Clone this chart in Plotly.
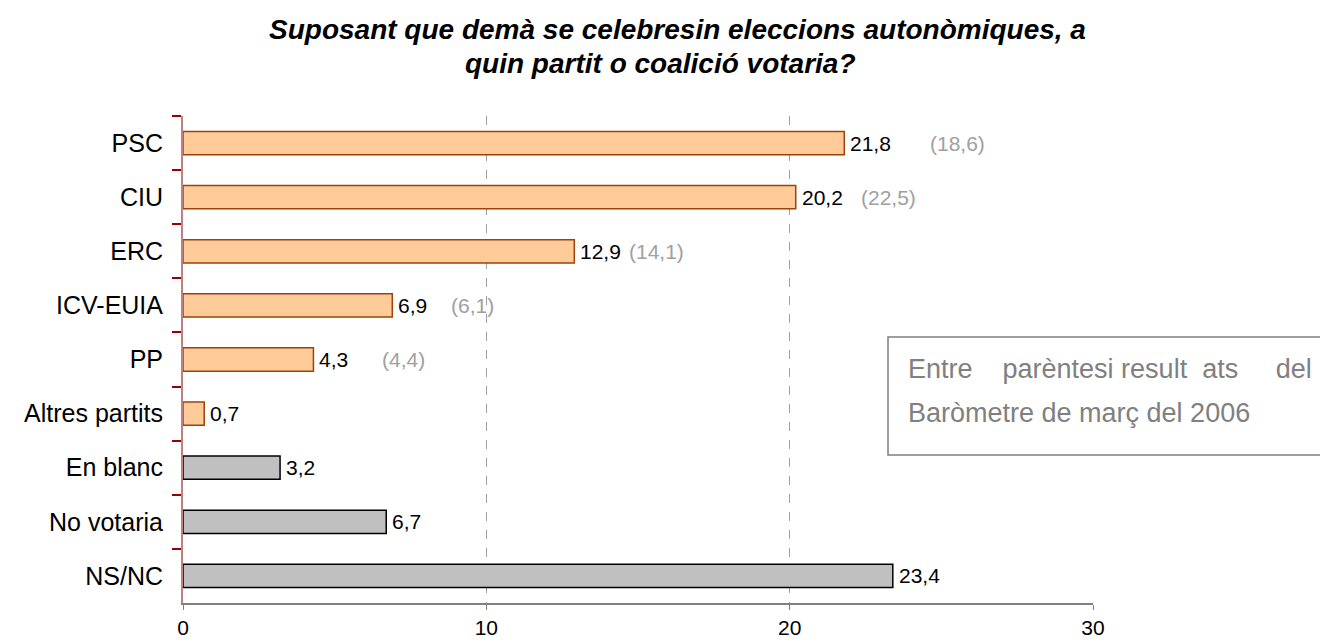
import plotly.graph_objects as go

categories = ["PSC", "CIU", "ERC", "ICV-EUIA", "PP", "Altres partits", "En blanc", "No votaria", "NS/NC"]
values = [21.8, 20.2, 12.9, 6.9, 4.3, 0.7, 3.2, 6.7, 23.4]
is_party = [True, True, True, True, True, True, False, False, False]
prev_categories = ["PSC", "CIU", "ERC", "ICV-EUIA", "PP"]
prev_values = [18.6, 22.5, 14.1, 6.1, 4.4]
x_ticks = [0, 10, 20, 30]

title_lines = ["Suposant que demà se celebresin eleccions autonòmiques, a",
               "quin partit o coalició votaria?"]
note_lines = ["Entre\u00a0\u00a0\u00a0 parèntesi result\u00a0 ats\u00a0\u00a0\u00a0\u00a0 del",
              "Baròmetre de març del 2006"]

FONT = "Liberation Sans, Arial, sans-serif"

# page offset from default body margin
OFF = 8
# plot-area geometry in page pixels (layout only)
L, R, T, B = 183, 1093, 116, 603
def px(xp):
    return (xp - L) / (R - L)
def py(yp):
    return (B - yp) / (B - T)

def fmt(v):
    return f"{v:.1f}".replace(".", ",")

fill = ["#FFCC99" if p else "#C0C0C0" for p in is_party]
edge = ["#A0400A" if p else "#000000" for p in is_party]

fig = go.Figure()
fig.add_trace(go.Bar(
    x=values, y=categories, orientation="h",
    marker=dict(color=fill, line=dict(color=edge, width=1.5)),
    width=0.43, hoverinfo="x+y", showlegend=False,
))

annotations = []
for c, v in zip(categories, values):
    annotations.append(dict(x=v, y=c, xref="x", yref="y", text=fmt(v),
                            showarrow=False, xanchor="left", yanchor="middle",
                            xshift=4, font=dict(family=FONT, size=21, color="#000000")))

prev_shift = [84, 63, 53, 57, 67]
for c, v, s, cur in zip(prev_categories, prev_values, prev_shift, values):
    annotations.append(dict(x=cur, y=c, xref="x", yref="y", text=f"({fmt(v)})",
                            showarrow=False, xanchor="left", yanchor="middle",
                            xshift=s, font=dict(family=FONT, size=21, color="#A0A0A0")))

# title lines
annotations.append(dict(x=px(677), y=py(30), xref="paper", yref="paper",
                        text=f"<b><i>{title_lines[0]}</i></b>", showarrow=False,
                        xanchor="center", yanchor="middle",
                        font=dict(family=FONT, size=28, color="#000000")))
annotations.append(dict(x=px(660), y=py(63), xref="paper", yref="paper",
                        text=f"<b><i>{title_lines[1]}</i></b>", showarrow=False,
                        xanchor="center", yanchor="middle",
                        font=dict(family=FONT, size=28, color="#000000")))
# note box text
annotations.append(dict(x=px(906), y=py(369), xref="paper", yref="paper",
                        text=note_lines[0], showarrow=False, xanchor="left", yanchor="middle",
                        font=dict(family=FONT, size=27, color="#808080")))
annotations.append(dict(x=px(906), y=py(413), xref="paper", yref="paper",
                        text=note_lines[1], showarrow=False, xanchor="left", yanchor="middle",
                        font=dict(family=FONT, size=27, color="#808080")))

fig.update_layout(
    width=1328, height=643,
    margin=dict(l=L - OFF, r=1328 - R + OFF, t=T - OFF, b=643 - B + OFF),
    paper_bgcolor="white", plot_bgcolor="white",
    font=dict(family=FONT, color="#000000"),
    annotations=annotations,
    shapes=[dict(type="rect", xref="paper", yref="paper",
                 x0=px(888), x1=px(1345), y0=py(455), y1=py(337),
                 line=dict(color="#808080", width=1.5), fillcolor="white", layer="above")],
)
fig.update_xaxes(range=[0, 30], tickvals=x_ticks, ticktext=[str(t) for t in x_ticks],
                 showgrid=True, gridcolor="#A0A0A0", griddash="dash", gridwidth=1,
                 zeroline=False, showline=True, linecolor="#808080", linewidth=1.5,
                 ticks="outside", ticklen=5, tickcolor="#808080", automargin=False,
                 tickfont=dict(family=FONT, size=21, color="#000000"), fixedrange=True)
fig.update_yaxes(categoryorder="array", categoryarray=categories, autorange="reversed",
                 showline=True, linecolor="#C08080", linewidth=2, automargin=False,
                 ticks="outside", tickson="boundaries", ticklen=9, tickcolor="#990000",
                 tickwidth=1.5, showgrid=False, ticklabelstandoff=13,
                 tickfont=dict(family=FONT, size=25, color="#000000"), fixedrange=True)

fig.write_html("out.html")
